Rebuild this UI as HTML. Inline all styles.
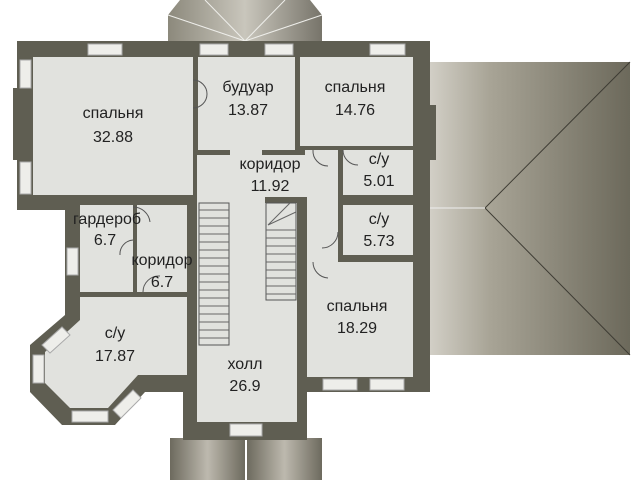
<!DOCTYPE html>
<html><head><meta charset="utf-8"><style>
html,body{margin:0;padding:0;background:#fff;width:640px;height:480px;overflow:hidden}
svg{display:block}
text{font-family:"Liberation Sans",sans-serif;font-size:16px;fill:#222;text-anchor:middle}
</style></head><body>
<svg width="640" height="480" viewBox="0 0 640 480" xmlns="http://www.w3.org/2000/svg">
<defs>
<linearGradient id="rg" x1="0" x2="1" y1="0" y2="0"><stop offset="0" stop-color="#d2cfc6"/><stop offset="0.3" stop-color="#a8a496"/><stop offset="1" stop-color="#6c695b"/></linearGradient>
<linearGradient id="tg" x1="0" x2="1" y1="0" y2="0"><stop offset="0" stop-color="#8c897c"/><stop offset="0.5" stop-color="#c9c6bc"/><stop offset="1" stop-color="#77746a"/></linearGradient>
<linearGradient id="pg" x1="0" x2="1" y1="0" y2="0"><stop offset="0" stop-color="#6d6a5e"/><stop offset="0.5" stop-color="#bdb9ae"/><stop offset="1" stop-color="#6d6a5e"/></linearGradient>
</defs>
<!-- tower roof top -->
<polygon points="168,15 180,0 310,0 322,15 322,41 168,41" fill="url(#tg)"/>
<g stroke="#eeeeea" stroke-width="1" fill="none">
<line x1="245" y1="41" x2="168" y2="15"/><line x1="245" y1="41" x2="205" y2="0"/><line x1="245" y1="41" x2="285" y2="0"/><line x1="245" y1="41" x2="322" y2="15"/>
</g>
<!-- right roof -->
<rect x="430" y="62" width="200" height="293" fill="url(#rg)"/>
<g stroke="#3e3c34" stroke-width="1" fill="none">
<polyline points="630,62 485,208 630,355"/><line x1="430" y1="208" x2="485" y2="208" stroke="#eee"/>
</g>
<!-- porch -->
<rect x="170" y="438" width="75" height="42" fill="url(#pg)"/>
<rect x="247" y="438" width="75" height="42" fill="url(#pg)"/>
<!-- building walls -->
<polygon fill="#5f5e52" points="17,41 430,41 430,392 307,392 307,440 183,440 183,392 145,392 115,425 62,425 30,392 30,345 65,315 65,210 17,210"/>
<rect x="13" y="88" width="6" height="72" fill="#5f5e52"/>
<rect x="428" y="105" width="8" height="55" fill="#5f5e52"/>
<!-- rooms -->
<g fill="#e1e2de">
<rect x="33" y="57" width="160" height="138"/>
<rect x="198" y="57" width="97" height="93"/>
<rect x="300" y="57" width="113" height="89"/>
<rect x="197" y="155" width="141" height="42"/>
<rect x="230" y="149" width="32" height="7"/>
<rect x="197" y="155" width="100" height="267"/>
<rect x="305" y="150" width="33" height="112"/>
<rect x="343" y="150" width="70" height="45"/>
<rect x="343" y="205" width="70" height="50"/>
<rect x="307" y="262" width="106" height="115"/>
<rect x="80" y="205" width="53" height="87"/>
<rect x="137" y="205" width="50" height="87"/>
<polygon points="80,297 187,297 187,375 138,375 108,408 70,408 45,383 45,352 80,320"/>
</g>
<!-- stair block wall -->
<rect x="265" y="197" width="42" height="6" fill="#5f5e52"/>
<rect x="297" y="197" width="10" height="225" fill="#5f5e52"/>
<!-- stairs -->
<g stroke="#555" stroke-width="1" fill="none">
<rect x="199" y="203" width="30" height="142"/>
<rect x="266" y="203" width="30" height="97"/>
</g>
<g stroke="#666" stroke-width="1">
<path d="M199 210H229M199 218H229M199 226H229M199 234H229M199 242H229M199 250H229M199 258H229M199 266H229M199 274H229M199 282H229M199 290H229M199 298H229M199 306H229M199 314H229M199 322H229M199 330H229M199 338H229"/>
<path d="M266 230H296M266 238H296M266 246H296M266 254H296M266 262H296M266 270H296M266 278H296M266 286H296M266 294H296M268 225L296 212M268 225L290 203"/>
</g>
<!-- windows -->
<g fill="#eeeeea" stroke="#aaa" stroke-width="1">
<rect x="88" y="44" width="34" height="11"/><rect x="200" y="44" width="28" height="11"/>
<rect x="265" y="44" width="28" height="11"/><rect x="370" y="44" width="35" height="11"/>
<rect x="20" y="60" width="11" height="28"/><rect x="20" y="162" width="11" height="32"/>
<rect x="67" y="248" width="11" height="27"/>
<rect x="323" y="379" width="34" height="11"/><rect x="370" y="379" width="34" height="11"/>
<rect x="230" y="424" width="32" height="12"/>
<rect x="33" y="355" width="11" height="28"/><rect x="72" y="411" width="36" height="11"/>
<polygon points="42,345 62,327 70,335 50,353"/><polygon points="113,410 133,390 141,398 121,418"/>
</g>
<!-- door arcs -->
<g stroke="#555" fill="none" stroke-width="1">
<path d="M193 80 A14 14 0 0 1 193 108"/>
<path d="M313 150 A15 15 0 0 0 328 166"/>
<path d="M343 150 A15 15 0 0 0 358 165"/>
<path d="M338 232 A16 16 0 0 1 322 248"/>
<path d="M313 262 A16 16 0 0 0 328 278"/>
<path d="M133 207 A17 17 0 0 1 150 222"/>
<path d="M133 240 A14 14 0 0 0 120 255"/>
<path d="M143 292 A16 16 0 0 1 160 276"/>
</g>
<!-- labels -->
<text x="113" y="118">спальня</text><text x="113" y="142">32.88</text>
<text x="248" y="92">будуар</text><text x="248" y="115">13.87</text>
<text x="355" y="92">спальня</text><text x="355" y="115">14.76</text>
<text x="270" y="169">коридор</text><text x="270" y="191">11.92</text>
<text x="379" y="164">с/у</text><text x="379" y="186">5.01</text>
<text x="379" y="224">с/у</text><text x="379" y="246">5.73</text>
<text x="107" y="224">гардероб</text><text x="105" y="245">6.7</text>
<text x="162" y="265">коридор</text><text x="162" y="287">6.7</text>
<text x="115" y="338">с/у</text><text x="115" y="361">17.87</text>
<text x="245" y="369">холл</text><text x="245" y="391">26.9</text>
<text x="357" y="311">спальня</text><text x="357" y="333">18.29</text>
</svg>
</body></html>
